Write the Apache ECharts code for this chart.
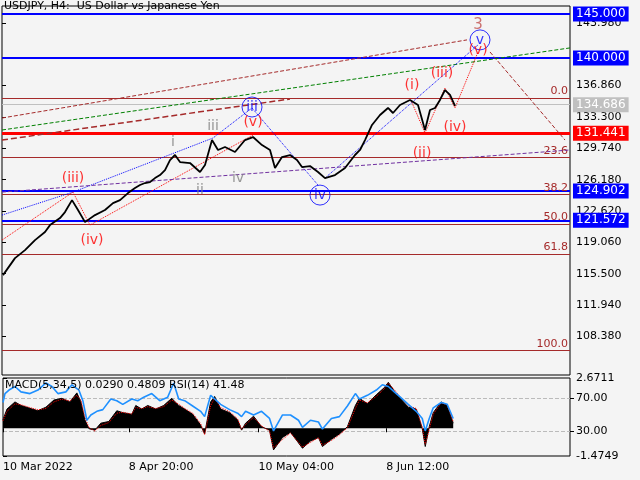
<!DOCTYPE html>
<html><head><meta charset="utf-8">
<script src="https://cdn.jsdelivr.net/npm/echarts@6/dist/echarts.min.js"></script>
<style>html,body{margin:0;padding:0;background:#f4f4f4}#c{width:640px;height:480px}</style>
</head><body><div id="c"></div>
<script>
// ---- data ----
const dateTicks = [0, 126, 256, 384];
const dateLabels = ['10 Mar 2022', '8 Apr 20:00', '10 May 04:00', '8 Jun 12:00'];
const priceTicks = [108.38, 111.94, 115.5, 119.06, 122.62, 126.18, 129.74, 133.3, 136.86, 143.98];
const priceIdx = [1,13,23,33,43,48,58,63,70,76,83,93,103,111,118,126,133,138,143,148,153,158,163,168,173,178,188,198,203,210,216,223,233,243,251,260,268,273,280,288,295,300,308,316,323,333,343,353,358,363,370,378,386,391,398,408,416,423,428,433,438,443,448,453];
const priceVal = [115.34,117.27,118.18,119.32,120.23,121.02,121.82,122.5,123.86,122.73,121.36,122.16,122.73,123.52,123.86,124.66,125.23,125.57,125.8,125.91,126.36,126.7,127.27,128.41,128.98,128.18,128.07,127.05,127.84,130.68,129.55,129.89,129.32,130.68,131.02,130.11,129.55,127.5,128.75,128.98,128.41,127.61,127.73,127.05,126.36,126.7,127.5,128.98,129.55,130.68,132.39,133.52,134.32,133.75,134.66,135.23,134.66,131.82,134.09,134.32,135.23,136.36,135.8,134.55];
const macdIdx = [0,4,12,18,27,35,43,51,59,67,74,78,82,86,92,98,106,114,120,129,133,139,145,153,161,169,176,182,190,198,202,208,212,218,227,235,239,243,251,259,267,271,280,288,300,308,316,320,329,337,345,353,357,365,374,382,386,392,398,406,414,420,423,427,431,439,445,451];
const macdVal = [0.45,1.02,1.40,1.21,1.06,0.93,1.12,1.50,1.59,1.40,1.88,1.40,0.45,-0.02,-0.10,0.27,0.36,0.93,0.83,0.74,1.21,1.02,1.21,1.02,1.21,1.59,1.21,1.02,0.74,0.17,-0.30,1.40,1.69,1.02,0.83,0.45,-0.10,0.27,0.64,0.08,-0.10,-1.15,-0.49,-0.21,-1.06,-0.68,-0.49,-0.97,-0.59,-0.30,0.08,1.21,1.59,1.31,1.78,2.16,2.44,1.97,1.59,1.12,1.02,-0.02,-0.97,0.08,0.83,1.40,1.21,0.27];
const signalVal = [0.40,0.90,1.30,1.25,1.10,0.98,1.05,1.40,1.55,1.45,1.75,1.50,0.60,0.05,-0.15,0.15,0.30,0.80,0.85,0.76,1.10,1.05,1.15,1.05,1.15,1.50,1.28,1.05,0.80,0.25,-0.35,1.20,1.60,1.10,0.88,0.50,-0.05,0.20,0.58,0.12,-0.15,-1.05,-0.60,-0.25,-1.00,-0.75,-0.50,-0.90,-0.65,-0.35,0.02,1.05,1.50,1.35,1.70,2.10,2.40,2.05,1.65,1.20,1.05,0.05,-0.85,-0.05,0.75,1.35,1.25,0.35];
const rsiIdx = [0,2,6,12,18,27,35,43,49,55,63,69,76,80,84,88,94,100,108,114,120,129,135,141,149,157,165,171,176,182,190,198,202,208,212,218,227,235,239,243,251,259,267,271,280,288,296,300,308,316,320,329,337,345,353,357,365,374,380,386,392,398,406,414,420,423,427,431,439,445,451];
const rsiVal = [64.8,75.6,79.9,84.2,77.7,75.6,79.9,88.5,84.2,75.6,77.7,86.3,79.9,67,43.3,49.7,54.1,56.2,69.1,67,62.6,69.1,67,71.3,75.6,67,71.3,88.5,69.1,67,60.6,54.1,47.7,73.5,69.1,62.6,56.2,51.9,47.7,54.1,49.7,54.1,45.5,30.4,49.7,49.7,43.3,34.8,43.3,41.2,32.6,45.5,47.7,60.6,75.6,69.1,73.5,79.9,86.3,84.2,77.7,71.3,62.6,54.1,45.5,30.4,45.5,58.4,64.8,62.6,45.5];
const blueLevels = [145.0, 140.0, 124.902, 121.572];
const blueLevelText = ['145.000', '140.000', '124.902', '121.572'];
const redLevel = 131.441, redLevelText = '131.441';
const lastPrice = 134.686, lastPriceText = '134.686';
const fibNames = ['0.0','23.6','38.2','50.0','61.8','100.0'];
const fibVals = [135.45, 128.69, 124.51, 121.14, 117.76, 106.82];
const brownTop = [[0,133.18],[465,142.05]];
const brownProj = [[488,140.68],[563,130.68]];
const greenTrend = [[0,131.82],[568,141.14]];
const brownLong = [[0,130.68],[288,135.34]];
const blueWave1 = [[0,122.16],[71,124.77],[211,130.91],[250,134.32],[316,125.57]];
const blueWave2 = [[323,126.36],[476,141.48]];
const redWave1 = [[0,119.32],[71,124.77],[88,121.02],[251,131.25]];
const redWave2 = [[408,135.45],[423,131.48],[443,136.59],[453,134.32],[476,140.68]];
const purpleTrend = [[0,124.77],[568,129.55]];
const redLabels = [[71,126.36,'(iii)'],[90,119.32,'(iv)'],[251,132.73,'(v)'],[410,136.93,'(i)'],[420,129.2,'(ii)'],[440,138.3,'(iii)'],[453,132.16,'(iv)'],[476,140.91,'(v)']];
const grayLabels = [[171,130.45,'i'],[198,125.0,'ii'],[211,132.27,'iii'],[236,126.36,'iv']];
const circleLabels = [[250,134.43,'iii'],[318,124.43,'iv'],[478,142.05,'v']];
const degreeLabels = [[476,143.75,'3']];

// ---- chart ----
const chart = echarts.init(document.getElementById('c'));
const zip = (a,b)=>a.map((x,i)=>[x,b[i]]);
function ov(data, color, type, width){
  return {type:'line', data, xAxisIndex:0, yAxisIndex:0, symbol:'none', silent:true,
    lineStyle:{color, type, width:width||1}, z:3};
}
function txt(data, color, size, extra){
  return Object.assign({type:'scatter', xAxisIndex:0, yAxisIndex:0, data, symbolSize:0, silent:true, z:6,
    label:{show:true, position:'inside', color, fontSize:size, fontFamily:'DejaVu Sans', formatter:p=>p.value[2]}}, extra||{});
}
const boxLabel = (bg)=>({show:true, position:'end', formatter:'{b}', backgroundColor:bg, color:'#fff', padding:[2,3,1,3], fontSize:12, fontFamily:'DejaVu Sans', distance:3});
const markData = [];
blueLevels.forEach((v,i)=>markData.push({yAxis:v, name:blueLevelText[i], lineStyle:{color:'#0000ff', width:2, type:'solid'}, label:boxLabel('#0000ff')}));
markData.push({yAxis:redLevel, name:redLevelText, lineStyle:{color:'#ff0000', width:3, type:'solid'}, label:boxLabel('#ff0000')});
markData.push({yAxis:lastPrice, name:lastPriceText, lineStyle:{color:'#c0c0c0', width:1, type:'solid'}, label:boxLabel('#c0c0c0')});
fibVals.forEach((v,i)=>markData.push({yAxis:v, name:fibNames[i], lineStyle:{color:'#a52a2a', width:1, type:'solid'},
  label:{show:true, position:'insideEndTop', formatter:'{b}', color:'#a52a2a', fontSize:11, fontFamily:'DejaVu Sans', distance:[2,1]}}));

chart.setOption({
  animation:false,
  backgroundColor:'#f4f4f4',
  graphic:[
    {type:'text', left:4, top:1, style:{text:'USDJPY, H4:  US Dollar vs Japanese Yen', fontSize:11, fontFamily:'DejaVu Sans', fill:'#000'}, z:10},
    {type:'text', left:5, top:380, style:{text:'MACD(5,34,5) 0.0290 0.4809 RSI(14) 41.48', fontSize:11, fontFamily:'DejaVu Sans', fill:'#000'}, z:10}
  ],
  grid:[
    {left:2, top:6, width:568, height:369, show:true, borderColor:'#000', borderWidth:1, backgroundColor:'transparent'},
    {left:2, top:378, width:568, height:78, show:true, borderColor:'#000', borderWidth:1, backgroundColor:'transparent'}
  ],
  xAxis:[
    {type:'value', gridIndex:0, min:0, max:568, show:false},
    {type:'value', gridIndex:1, min:0, max:568, axisLine:{show:false}, splitLine:{show:false},
     axisTick:{show:true, customValues:dateTicks, length:4, lineStyle:{color:'#000'}},
     axisLabel:{customValues:dateTicks, formatter:v=>dateLabels[dateTicks.indexOf(v)], align:'left', color:'#000', fontSize:11, fontFamily:'DejaVu Sans', margin:6}}
  ],
  yAxis:[
    {type:'value', gridIndex:0, position:'right', min:104.0, max:145.9, axisLine:{show:false}, splitLine:{show:false},
     axisTick:{show:true, inside:false, customValues:priceTicks, length:4, lineStyle:{color:'#000'}},
     axisLabel:{customValues:priceTicks, formatter:v=>v.toFixed(3), color:'#000', fontSize:11, fontFamily:'DejaVu Sans', margin:6}},
    {type:'value', gridIndex:1, position:'right', min:-1.4749, max:2.6711, axisLine:{show:false}, splitLine:{show:false},
     axisTick:{show:true, customValues:[-1.4749,2.6711], length:4, lineStyle:{color:'#000'}},
     axisLabel:{customValues:[-1.4749,2.6711], formatter:v=>v.toFixed(4), color:'#000', fontSize:11, fontFamily:'DejaVu Sans', margin:6, verticalAlign:'middle'}},
    {type:'value', gridIndex:1, position:'right', min:0, max:94.5, axisLine:{show:false},
     splitLine:{show:true, lineStyle:{color:'#bbb', type:'dashed'}}, 
     axisTick:{show:true, customValues:[30,70], length:4, lineStyle:{color:'#000'}},
     axisLabel:{customValues:[30,70], formatter:v=>v.toFixed(2), color:'#000', fontSize:11, fontFamily:'DejaVu Sans', margin:6}}
  ],
  series:[
    {type:'line', name:'price', xAxisIndex:0, yAxisIndex:0, data:zip(priceIdx,priceVal), symbol:'none',
     lineStyle:{color:'#000', width:1.8}, z:5, markLine:{symbol:'none', silent:true, data:markData, z:2}},
    ov(brownTop,'#a52a2a','dashed'),
    ov(brownProj,'#a52a2a','dashed'),
    ov(greenTrend,'#008000','dashed'),
    ov(brownLong,'#a52a2a','dashed',1.5),
    ov(blueWave1,'#0000ff','dotted'),
    ov(blueWave2,'#0000ff','dotted'),
    ov(redWave1,'#ff0000','dotted'),
    ov(redWave2,'#ff0000','dotted'),
    ov(purpleTrend,'#7030a0','dashed'),
    txt(redLabels,'#ff0000',14),
    txt(grayLabels,'#808080',14),
    txt(degreeLabels,'#c0504d',15),
    txt(circleLabels,'#0000ff',14,{symbolSize:20, itemStyle:{color:'rgba(0,0,0,0)', borderColor:'#0000ff', borderWidth:1}}),
    {type:'line', xAxisIndex:1, yAxisIndex:1, data:zip(macdIdx,macdVal), symbol:'none', lineStyle:{color:'#000', width:1},
     areaStyle:{color:'#000', opacity:1, origin:0}},
    {type:'line', xAxisIndex:1, yAxisIndex:1, data:zip(macdIdx,signalVal), symbol:'none', lineStyle:{color:'#ff0000', width:1, type:'dotted'}},
    {type:'line', xAxisIndex:1, yAxisIndex:2, data:zip(rsiIdx,rsiVal), symbol:'none', lineStyle:{color:'#1e90ff', width:1.6}}
  ]
});
</script></body></html>
